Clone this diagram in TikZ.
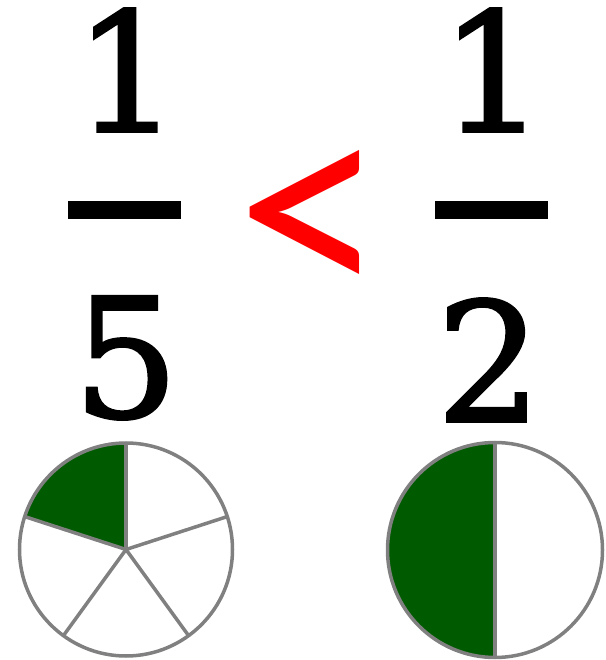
\documentclass[tikz,border=0pt]{standalone}
\usepackage{fontspec}
\setmainfont{DejaVu Serif}[FakeBold=1.6]
\newfontfamily\relfont{Carlito}
\usetikzlibrary{positioning}
\definecolor{PieGreen}{HTML}{005A00}
\definecolor{PieEdge}{HTML}{808080}
\definecolor{RelRed}{HTML}{FF0000}
\tikzset{
fracdigit/.style={inner sep=0pt, font=\fontsize{166}{166}\selectfont},
fracbar/.style={fill=black, draw=none},
relsign/.style={inner sep=0pt, text=RelRed, font=\relfont\fontsize{300}{300}\selectfont},
pieedge/.style={draw=PieEdge, line width=3.5pt},
piefill/.style={fill=PieGreen}
}
\begin{document}
\begin{tikzpicture}[x=1pt, y=1pt]
  \useasboundingbox (0,0) rectangle (605,660);
  % left fraction
  \node[fracdigit] (numL) at (127,590) {1};
  \node[fracdigit] (denL) at (126,302) {5};
  \fill[fracbar] (68,441) rectangle (181,459);
  % relation
  \node[relsign] (less) at (311,431) {<};
  % right fraction
  \node[fracdigit] (numR) at (493,590) {1};
  \node[fracdigit] (denR) at (489,300) {2};
  \fill[fracbar] (435,441) rectangle (548,459);
  % left pie, fifths
  \coordinate (pieL) at (126,110.5);
  \fill[piefill] (pieL) -- ++(90:106.5) arc[start angle=90, end angle=162, radius=106.5] -- cycle;
  \foreach \a in {90,18,-54,-126,162}
    \draw[pieedge] (pieL) -- ++(\a:106.5);
  \draw[pieedge] (pieL) circle[radius=106.5];
  % right pie, halves
  \coordinate (pieR) at (495,110);
  \fill[piefill] (pieR) -- ++(90:107.5) arc[start angle=90, end angle=270, radius=107.5] -- cycle;
  \draw[pieedge] (pieR) ++(0,107.5) -- ++(0,-215);
  \draw[pieedge] (pieR) circle[radius=107.5];
\end{tikzpicture}
\end{document}
